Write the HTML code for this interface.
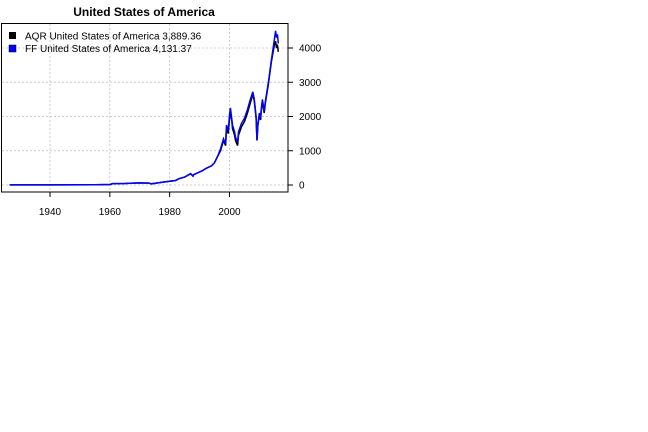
<!DOCTYPE html>
<html><head><meta charset="utf-8"><style>
html,body{margin:0;padding:0;background:#fff;width:648px;height:432px;overflow:hidden}
svg{display:block;font-family:"Liberation Sans",Arial,sans-serif}
</style></head><body>
<svg id="chart" width="648" height="432">
<text x="144" y="16" text-anchor="middle" font-size="12" font-weight="bold">United States of America</text>
<g id="grid"></g>
<g id="series"></g>
<rect x="1.5" y="23.5" width="286.5" height="168.5" fill="none" stroke="#000"/>
<g id="axes"></g>
<g>
<rect x="9" y="32" width="7" height="7" fill="#000"/>
<text x="25" y="39.5" font-size="10">AQR United States of America 3,889.36</text>
<rect x="9" y="45" width="7" height="7" fill="#0000ff" stroke="#000" stroke-width="0.5"/>
<text x="25" y="52" font-size="10">FF United States of America 4,131.37</text>
</g>
</svg>
<script>
const years=[1926.5,1940,1955,1960,1961,1965,1970,1973,1974,1976,1980,1982,1983,1985,1987,1987.8,1988,1990,1991,1992,1994,1995,1996,1997,1998,1998.7,1999,1999.6,2000,2000.3,2000.8,2001,2001.7,2002,2002.7,2003,2004,2005,2006,2007,2007.8,2008.3,2008.9,2009.2,2009.5,2010,2010.4,2010.6,2011,2011.6,2011.8,2012,2013,2014,2015,2015.4,2015.7,2016,2016.3];
const ffValues=[2,4,8,15,40,45,60,55,35,60,110,130,180,230,330,260,300,380,420,480,560,650,830,1050,1350,1200,1750,1600,2050,2250,1900,1750,1550,1400,1250,1550,1800,1950,2200,2500,2720,2500,2000,1300,1800,2100,1950,2200,2500,2150,2300,2450,3000,3650,4250,4500,4300,4400,4131];
const aqrValues=[2,4,8,15,40,45,60,55,35,60,110,130,180,230,330,260,300,380,420,480,560,650,830,1000,1300,1150,1650,1500,1950,2100,1850,1650,1450,1300,1150,1450,1700,1850,2100,2400,2650,2450,1950,1300,1750,2050,1900,2150,2450,2100,2250,2400,2950,3600,4100,4200,4000,4100,3889];
const xTicks=[1940,1960,1980,2000];
const yTicks=[0,1000,2000,3000,4000];
const NS="http://www.w3.org/2000/svg";
const X=y=>50+(y-1940)*(229.5-50)/60;
const Y=v=>185-v*(185-48)/4000;
function mk(t,a,p){const e=document.createElementNS(NS,t);for(const k in a)e.setAttribute(k,a[k]);p.appendChild(e);return e;}
const grid=document.getElementById('grid'),axes=document.getElementById('axes'),ser=document.getElementById('series');
xTicks.forEach(t=>{
const g=mk('line',{x1:X(t),x2:X(t),y1:24,y2:192,stroke:'#ccc','stroke-dasharray':'2,2'},grid);


const tk=mk('line',{x1:X(t),x2:X(t),y1:192,y2:197,stroke:'#000'},axes);


const l=mk('text',{x:X(t),y:215,'text-anchor':'middle','font-size':'10'},axes);l.textContent=t;


});
yTicks.forEach(t=>{
const g=mk('line',{x1:2,x2:288,y1:Y(t),y2:Y(t),stroke:'#ccc','stroke-dasharray':'2,2'},grid);


const tk=mk('line',{x1:288,x2:293,y1:Y(t),y2:Y(t),stroke:'#000'},axes);


const l=mk('text',{x:299,y:Y(t)+3.5,'font-size':'10'},axes);l.textContent=t;


});
function line(vals,col,name){
const d=years.map((y,i)=>(i?'L':'M')+X(y).toFixed(1)+','+Y(vals[i]).toFixed(1)).join('');
const p=mk('path',{d:d,fill:'none',stroke:col,'stroke-width':'1.5'},ser);


}
line(aqrValues,'#000','aqr-line');
line(ffValues,'#0000ff','ff-line');
</script>
</body></html>
